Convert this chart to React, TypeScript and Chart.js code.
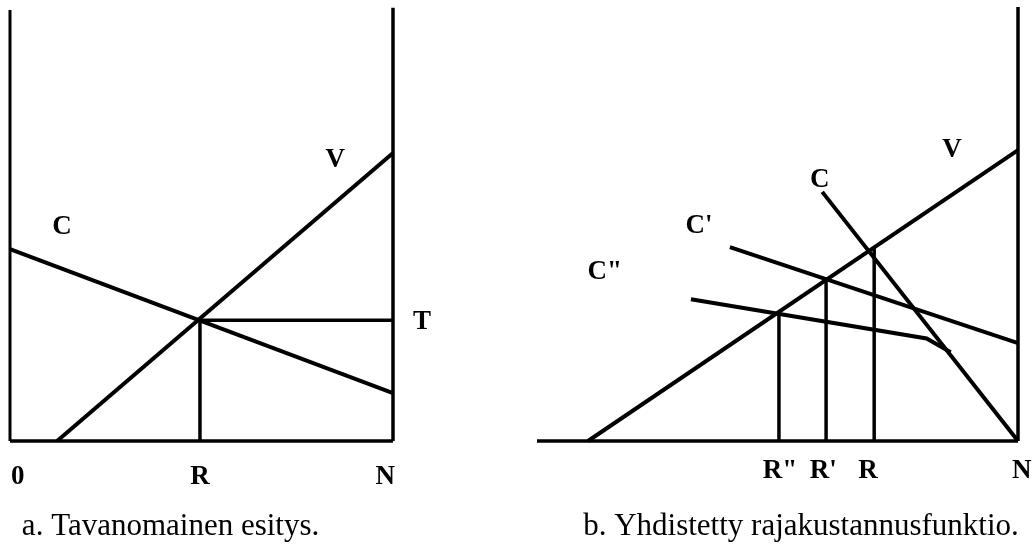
import React, { useEffect, useRef } from 'react';
import { Chart, registerables } from 'chart.js';

Chart.register(...registerables);

// ---------- Panel a: Tavanomainen esitys ----------
const aBaseX = [0, 10];
const aBaseY = [0, 0];
const aLeftX = [0, 0];
const aLeftY = [0, 10];
const aRightX = [10, 10];
const aRightY = [0, 10.05];
const aCX = [0, 10];
const aCY = [4.45, 1.11];
const aVX = [1.23, 10];
const aVY = [0, 6.68];
const aTX = [4.96, 10];
const aTY = [2.8, 2.8];
const aRX = [4.96, 4.96];
const aRY = [0, 2.8];

const aCurveLabels = ['C', 'V', 'T'];
const aCurveLabelX = [1.36, 8.49, 10.76];
const aCurveLabelY = [4.97, 6.52, 2.76];
const aTickLabels = ['0', 'R', 'N'];
const aTickX = [0.2, 4.96, 9.8];
const aCaption = 'a. Tavanomainen esitys.';
const aCaptionX = 0.31;

// ---------- Panel b: Yhdistetty rajakustannusfunktio ----------
const bBaseX = [0, 10];
const bBaseY = [0, 0];
const bRightX = [10, 10];
const bRightY = [0, 10.07];
const bVX = [1.06, 10];
const bVY = [0, 6.75];
const bCX = [5.93, 10];
const bCY = [5.78, 0];
const bC1X = [4.01, 10];
const bC1Y = [4.5, 2.27];
const bC2X = [3.2, 8.1, 8.6];
const bC2Y = [3.29, 2.38, 2.06];
const bR2X = [5.03, 5.03];
const bR2Y = [0, 3.0];
const bR1X = [6.01, 6.01];
const bR1Y = [0, 3.74];
const bRX = [7.01, 7.01];
const bRY = [0, 4.49];

const bCurveLabels = ['C"', "C'", 'C', 'V'];
const bCurveLabelX = [1.41, 3.37, 5.88, 8.63];
const bCurveLabelY = [3.92, 4.99, 6.06, 6.75];
const bTickLabels = ['R"', "R'", 'R', 'N'];
const bTickX = [5.05, 5.95, 6.88, 10.08];
const bCaption = 'b. Yhdistetty rajakustannusfunktio.';
const bCaptionX = 0.96;

const pts = (xs: number[], ys: number[]) => xs.map((x, i) => ({ x, y: ys[i] }));

const seg = (xs: number[], ys: number[], w: number) => ({
  data: pts(xs, ys),
  borderColor: '#000',
  borderWidth: w,
  pointRadius: 0,
  fill: false,
  tension: 0,
  clip: false as any,
  borderCapStyle: 'butt' as const,
  borderJoinStyle: 'miter' as const,
});

interface TextSpec {
  curveLabels: string[];
  curveX: number[];
  curveY: number[];
  tickLabels: string[];
  tickX: number[];
  tickOffset: number;
  caption: string;
  captionX: number;
  captionOffset: number;
}

const makeTextPlugin = (t: TextSpec) => ({
  id: 'diagramText',
  afterDraw(chart: any) {
    const { ctx, chartArea } = chart;
    const xs = chart.scales.x;
    const ys = chart.scales.y;
    ctx.save();
    ctx.fillStyle = '#000';
    ctx.textBaseline = 'middle';
    ctx.textAlign = 'center';
    ctx.font = 'bold 27px "Liberation Serif", serif';
    t.curveLabels.forEach((lab, i) => {
      ctx.fillText(lab, xs.getPixelForValue(t.curveX[i]), ys.getPixelForValue(t.curveY[i]));
    });
    t.tickLabels.forEach((lab, i) => {
      ctx.fillText(lab, xs.getPixelForValue(t.tickX[i]), chartArea.bottom + t.tickOffset);
    });
    ctx.textAlign = 'left';
    ctx.font = '31px "Liberation Serif", serif';
    ctx.fillText(t.caption, xs.getPixelForValue(t.captionX), chartArea.bottom + t.captionOffset);
    ctx.restore();
  },
});

const baseOptions = (padding: any) => ({
  animation: false as const,
  responsive: false,
  events: [] as any[],
  layout: { padding },
  plugins: { legend: { display: false }, tooltip: { enabled: false }, title: { display: false } },
  scales: {
    x: { type: 'linear' as const, min: 0, max: 10, display: false },
    y: { type: 'linear' as const, min: 0, max: 10, display: false },
  },
});

export default function App() {
  const refA = useRef<HTMLCanvasElement | null>(null);
  const refB = useRef<HTMLCanvasElement | null>(null);

  useEffect(() => {
    const chartA = new Chart(refA.current as HTMLCanvasElement, {
      type: 'line',
      data: {
        datasets: [
          seg(aLeftX, aLeftY, 3),
          seg(aRightX, aRightY, 3.5),
          seg(aBaseX, aBaseY, 3.5),
          seg(aCX, aCY, 4),
          seg(aVX, aVY, 4),
          seg(aTX, aTY, 3.5),
          seg(aRX, aRY, 3.5),
        ],
      },
      options: baseOptions({ left: 10, right: 124, top: 10, bottom: 105 }) as any,
      plugins: [
        makeTextPlugin({
          curveLabels: aCurveLabels,
          curveX: aCurveLabelX,
          curveY: aCurveLabelY,
          tickLabels: aTickLabels,
          tickX: aTickX,
          tickOffset: 36,
          caption: aCaption,
          captionX: aCaptionX,
          captionOffset: 86,
        }),
      ],
    });

    const chartB = new Chart(refB.current as HTMLCanvasElement, {
      type: 'line',
      data: {
        datasets: [
          seg(bRightX, bRightY, 3.5),
          seg(bBaseX, bBaseY, 3.5),
          seg(bVX, bVY, 4),
          seg(bCX, bCY, 4),
          seg(bC1X, bC1Y, 4),
          seg(bC2X, bC2Y, 4),
          seg(bR2X, bR2Y, 3.5),
          seg(bR1X, bR1Y, 3.5),
          seg(bRX, bRY, 3.5),
        ],
      },
      options: baseOptions({ left: 20, right: 16, top: 10, bottom: 105 }) as any,
      plugins: [
        makeTextPlugin({
          curveLabels: bCurveLabels,
          curveX: bCurveLabelX,
          curveY: bCurveLabelY,
          tickLabels: bTickLabels,
          tickX: bTickX,
          tickOffset: 30,
          caption: bCaption,
          captionX: bCaptionX,
          captionOffset: 86,
        }),
      ],
    });

    return () => {
      chartA.destroy();
      chartB.destroy();
    };
  }, []);

  return (
    <div
      style={{
        position: 'absolute',
        left: 0,
        top: 0,
        width: 1034,
        height: 546,
        background: '#fff',
        display: 'flex',
      }}
    >
      <canvas ref={refA} width={517} height={546} style={{ display: 'block', width: 517, height: 546 }} />
      <canvas ref={refB} width={517} height={546} style={{ display: 'block', width: 517, height: 546 }} />
    </div>
  );
}
